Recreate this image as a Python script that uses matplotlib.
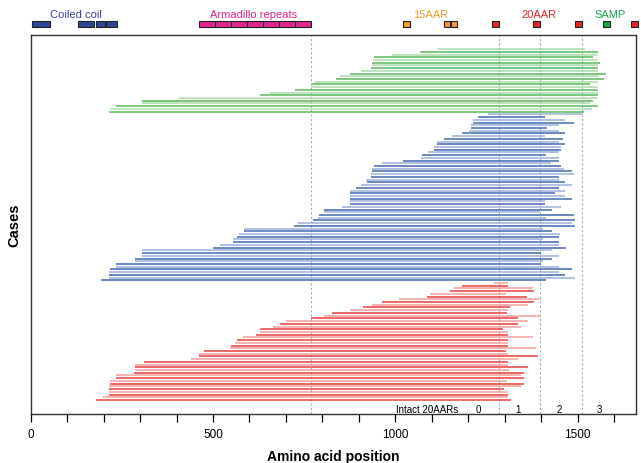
import numpy as np
import matplotlib.pyplot as plt
from matplotlib.patches import Rectangle
from matplotlib.transforms import blended_transform_factory

plt.rcParams['font.family'] = ['Liberation Sans', 'DejaVu Sans']

# truncated fragments per case (start, end in amino acids), top to bottom
green_start = [1114, 1067, 992, 941, 939, 936, 936, 933, 905, 876, 847, 836,
               779, 771, 768, 726, 655, 628, 407, 306, 306, 234, 218, 215]
green_end = [1520, 1556, 1556, 1543, 1556, 1561, 1556, 1556, 1556, 1579, 1556, 1572,
             1556, 1534, 1556, 1556, 1556, 1556, 1556, 1543, 1534, 1556, 1541, 1518]

blue_start = [1255, 1226, 1212, 1212, 1209, 1209, 1202, 1184, 1156, 1134, 1114, 1114,
              1105, 1105, 1090, 1073, 1070, 1020, 964, 941, 937, 936, 933, 932,
              919, 922, 905, 893, 876, 876, 876, 876, 876, 876, 854, 804,
              804, 791, 787, 775, 734, 722, 586, 584, 572, 567, 556, 556,
              518, 500, 306, 306, 306, 287, 287, 234, 234, 218, 215, 215,
              215, 192]
blue_end = [1511, 1410, 1465, 1491, 1450, 1417, 1449, 1465, 1410, 1460, 1449, 1465,
            1454, 1454, 1449, 1413, 1449, 1449, 1428, 1454, 1463, 1486, 1489, 1449,
            1449, 1465, 1486, 1449, 1465, 1437, 1465, 1486, 1410, 1410, 1454, 1431,
            1397, 1491, 1413, 1493, 1486, 1493, 1405, 1431, 1452, 1449, 1405, 1449,
            1449, 1468, 1431, 1399, 1449, 1431, 1405, 1399, 1449, 1484, 1449, 1465,
            1493, 1413]

red_start = [1271, 1182, 1160, 1150, 1094, 1086, 1009, 964, 937, 912, 876, 827,
             804, 768, 701, 684, 664, 628, 628, 617, 583, 567, 560, 548,
             546, 476, 461, 461, 440, 310, 287, 287, 287, 283, 234, 234,
             218, 218, 215, 215, 215, 215, 199, 179]
red_end = [1309, 1309, 1377, 1380, 1304, 1362, 1396, 1380, 1364, 1315, 1309, 1307,
           1396, 1337, 1364, 1337, 1344, 1295, 1309, 1309, 1377, 1309, 1309, 1309,
           1387, 1304, 1309, 1392, 1337, 1309, 1309, 1364, 1313, 1352, 1344, 1352,
           1307, 1352, 1344, 1297, 1309, 1309, 1310, 1318]

# protein domains
coil_start = [4, 130, 178, 206]
coil_end = [54, 173, 204, 237]
arm_start = [462, 506, 550, 593, 637, 681, 725]
arm_end = [506, 550, 593, 637, 681, 725, 768]
aar15_start = [1021, 1135, 1153]
aar15_end = [1039, 1151, 1168]
aar20_start = [1264, 1378, 1493, 1646]
aar20_end = [1284, 1397, 1512, 1665]
samp_start = [1569]
samp_end = [1588]

boundaries = [768, 1285, 1398, 1512]
intact_labels = ['0', '1', '2', '3']
intact_pos = [1228, 1336, 1450, 1560]

fig = plt.figure(figsize=(6.41, 4.64), dpi=100)
ax = fig.add_axes([0.048, 0.106, 0.944, 0.816])

groups = [
    (green_start, green_end, '#5cb85c', '#a9dca9'),
    (blue_start, blue_end, '#4469b0', '#9cb0d8'),
    (red_start, red_end, '#e5403c', '#f2a09d'),
]
row = 0
for starts, ends, dark, light in groups:
    for k in range(len(starts)):
        col = light if k % 2 == 0 else dark
        ax.hlines(row, starts[k], ends[k], colors=col, lw=1.1)
        row += 1

for b in boundaries:
    ax.axvline(b, color='#aaaaaa', lw=0.8, ls=(0, (2, 2)), zorder=0)

for lab, p in zip(intact_labels, intact_pos):
    ax.text(p, row + 2.3, lab, fontsize=7, ha='center', va='center')
ax.text(1174, row + 2.3, 'Intact 20AARs', fontsize=7, ha='right', va='center')

ax.set_xlim(0, 1660)
ax.set_ylim(row + 4.1, -5.1)
ax.set_yticks([])
ax.set_xticks([0, 500, 1000, 1500])
ax.set_xticks(np.arange(0, 1700, 100), minor=True)
ax.tick_params(axis='x', which='both', direction='out', length=5.5, width=0.9,
               labelsize=8.5, pad=4.5)
for s in ax.spines.values():
    s.set_color('#333333')
    s.set_linewidth(1.0)
ax.set_xlabel('Amino acid position', fontsize=10, fontweight='bold', labelpad=7)
ax.set_ylabel('Cases', fontsize=10.5, fontweight='bold', labelpad=7)

# domain track above the plot
trans = blended_transform_factory(ax.transData, fig.transFigure)
box_y = 0.9397
box_h = 0.0129
domains = [
    (coil_start, coil_end, '#2e4593'),
    (arm_start, arm_end, '#e0268c'),
    (aar15_start, aar15_end, '#f39a2c'),
    (aar20_start, aar20_end, '#e4262c'),
    (samp_start, samp_end, '#17a44b'),
]
for starts, ends, col in domains:
    for s0, e0 in zip(starts, ends):
        ax.add_patch(Rectangle((s0, box_y), e0 - s0, box_h, transform=trans,
                               facecolor=col, edgecolor='#222222', lw=0.8, clip_on=False))

label_y = 0.968
ax.text(124, label_y, 'Coiled coil', color='#3a3f9a', fontsize=8, ha='center', va='center', transform=trans)
ax.text(612, label_y, 'Armadillo repeats', color='#e0268c', fontsize=8, ha='center', va='center', transform=trans)
ax.text(1096, label_y, '15AAR', color='#f39a2c', fontsize=8, ha='center', va='center', transform=trans)
ax.text(1393, label_y, '20AAR', color='#e4262c', fontsize=8, ha='center', va='center', transform=trans)
ax.text(1588, label_y, 'SAMP', color='#17a44b', fontsize=8, ha='center', va='center', transform=trans)

fig.savefig('out.png', dpi=100)
